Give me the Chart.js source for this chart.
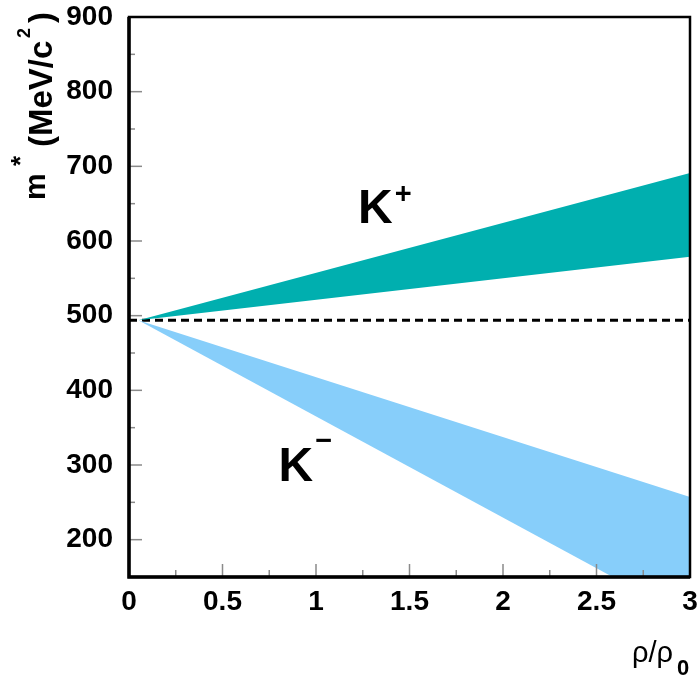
<!DOCTYPE html>
<html>
<head>
<meta charset="utf-8">
<script src="https://cdn.jsdelivr.net/npm/chart.js@4"></script>
<style>
  html, body { margin: 0; padding: 0; background: #fff; }
  #wrap { width: 700px; height: 679px; }
</style>
</head>
<body>
<div id="wrap"><canvas id="chart" width="700" height="679"></canvas></div>
<script>
// density in units of normal nuclear density
const rho = [0.05, 3];
// in-medium kaon mass bands (MeV/c^2)
const kPlusLower = [494, 579];
const kPlusUpper = [494, 691];
const kMinusLower = [494, 94];
const kMinusUpper = [494, 257];
const vacuumRho = [0, 3];
const vacuumMass = [494, 494];

const xTicks = [0, 0.5, 1, 1.5, 2, 2.5, 3];
const yTicks = [200, 300, 400, 500, 600, 700, 800, 900];

const FONT = '"Liberation Sans", Arial, sans-serif';
const TEAL = '#00afaf';
const SKY = '#87cefa';

const pts = (xs, ys) => xs.map((x, i) => ({ x, y: ys[i] }));

const bandLabels = [
  { text: 'K', sup: '+', x: 1.225, y: 624, dy: -20 },
  { text: 'K', sup: '\u2212', x: 0.80, y: 278, dy: -31 },
];

const framePlugin = {
  id: 'frame',
  afterDatasetsDraw(chart) {
    const { ctx, chartArea: a, scales } = chart;
    const xs = scales.x, ys = scales.y;
    ctx.save();
    // inward ticks
    ctx.strokeStyle = '#8a8a8a';
    ctx.lineWidth = 1.5;
    xTicks.forEach((v, i) => {
      const px = xs.getPixelForValue(v);
      ctx.beginPath(); ctx.moveTo(px, a.bottom); ctx.lineTo(px, a.bottom - 13); ctx.stroke();
      if (i < xTicks.length - 1) {
        const pm = xs.getPixelForValue((v + xTicks[i + 1]) / 2);
        ctx.beginPath(); ctx.moveTo(pm, a.bottom); ctx.lineTo(pm, a.bottom - 7); ctx.stroke();
      }
    });
    yTicks.forEach((v) => {
      const py = ys.getPixelForValue(v);
      ctx.beginPath(); ctx.moveTo(a.left, py); ctx.lineTo(a.left + 13, py); ctx.stroke();
      const pm = ys.getPixelForValue(v - 50);
      ctx.beginPath(); ctx.moveTo(a.left, pm); ctx.lineTo(a.left + 6, pm); ctx.stroke();
    });
    // frame
    ctx.strokeStyle = '#000';
    ctx.lineWidth = 2.5;
    ctx.strokeRect(a.left, a.top, a.right - a.left, a.bottom - a.top);
    ctx.lineWidth = 3.5;
    ctx.beginPath();
    ctx.moveTo(a.left, a.top); ctx.lineTo(a.left, a.bottom); ctx.lineTo(a.right, a.bottom);
    ctx.stroke();

    // band labels
    ctx.fillStyle = '#000';
    ctx.textBaseline = 'alphabetic';
    bandLabels.forEach(l => {
      const px = xs.getPixelForValue(l.x);
      const py = ys.getPixelForValue(l.y);
      ctx.font = 'bold 48px ' + FONT;
      ctx.textAlign = 'left';
      ctx.fillText(l.text, px, py);
      const w = ctx.measureText(l.text).width;
      ctx.font = 'bold 29px ' + FONT;
      ctx.fillText(l.sup, px + w + 2, py + l.dy);
    });

    // y axis title, rotated
    ctx.save();
    ctx.translate(53, 200);
    ctx.rotate(-Math.PI / 2);
    ctx.textAlign = 'left';
    const part = (t, size, at, dy) => {
      ctx.font = 'bold ' + size + 'px ' + FONT;
      ctx.fillText(t, at, dy);
    };
    part('m', 30, 0, -8);
    part('*', 26, 34, -24);
    part('(MeV/c', 33, 53, -1);
    part('2', 18, 162, -23);
    part(')', 33, 177, -1);
    ctx.restore();

    // x axis title
    ctx.font = '29px ' + FONT;
    ctx.textAlign = 'left';
    ctx.fillText('\u03c1/\u03c1', 632, 662);
    ctx.font = 'bold 22px ' + FONT;
    ctx.fillText('0', 677, 675);
    ctx.restore();
  }
};

new Chart(document.getElementById('chart'), {
  type: 'line',
  data: {
    datasets: [
      { data: pts(rho, kPlusLower), borderWidth: 0, pointRadius: 0, fill: false, backgroundColor: TEAL },
      { data: pts(rho, kPlusUpper), borderWidth: 0, pointRadius: 0, fill: '-1', backgroundColor: TEAL },
      { data: pts(rho, kMinusLower), borderWidth: 0, pointRadius: 0, fill: false, backgroundColor: SKY },
      { data: pts(rho, kMinusUpper), borderWidth: 0, pointRadius: 0, fill: '-1', backgroundColor: SKY },
      {
        data: pts(vacuumRho, vacuumMass),
        borderColor: '#000', borderWidth: 3, borderDash: [8, 5],
        pointRadius: 0, fill: false,
      },
    ],
  },
  options: {
    responsive: false,
    animation: false,
    events: [],
    layout: { padding: { top: 17, right: 10, left: 0, bottom: 0 } },
    plugins: { legend: { display: false }, tooltip: { enabled: false } },
    scales: {
      x: {
        type: 'linear',
        min: 0,
        max: 3,
        afterBuildTicks: (s) => { s.ticks = xTicks.map(v => ({ value: v })); },
        afterFit: (s) => { s.height = 102; s.paddingLeft = 0; s.paddingRight = 0; },
        grid: { display: false },
        border: { display: false },
        ticks: {
          color: '#000',
          padding: 0,
          maxRotation: 0,
          font: { family: FONT, size: 28, weight: 'bold' },
          callback: (v) => String(v),
        },
      },
      y: {
        min: 150,
        max: 900,
        afterBuildTicks: (s) => { s.ticks = yTicks.map(v => ({ value: v })); },
        afterFit: (s) => { s.width = 129; s.paddingTop = 0; s.paddingBottom = 0; },
        grid: { display: false },
        border: { display: false },
        ticks: {
          color: '#000',
          padding: 8,
          font: { family: FONT, size: 28, weight: 'bold' },
          callback: (v) => String(v),
        },
      },
    },
  },
  plugins: [framePlugin],
});
</script>
</body>
</html>
